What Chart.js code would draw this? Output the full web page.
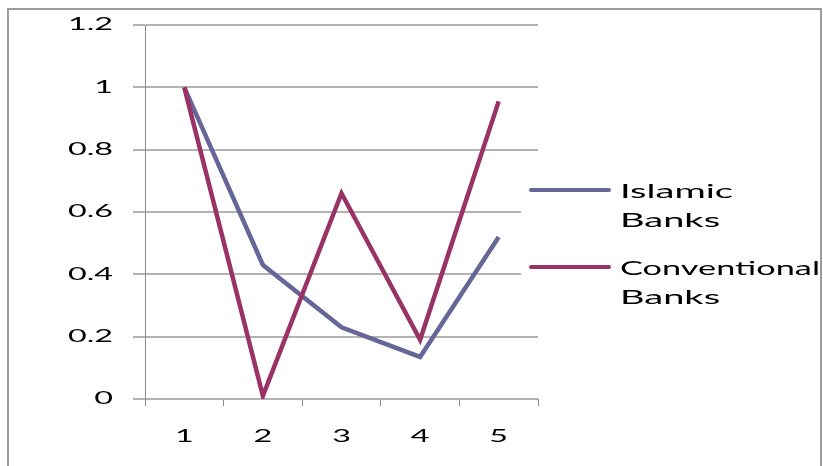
<!DOCTYPE html>
<html>
<head>
<meta charset="utf-8">
<script src="https://cdn.jsdelivr.net/npm/chart.js@4.4.1/dist/chart.umd.min.js"></script>
<style>
  html, body { margin: 0; padding: 0; background: #ffffff; }
  #wrap { width: 823px; height: 466px; position: relative; }
</style>
</head>
<body>
<div id="wrap"><canvas id="chart"></canvas></div>
<script>
// Periods on the x axis
const categories = ['1', '2', '3', '4', '5'];

// Normalised values per bank type
const islamicBanks = [1.0, 0.43, 0.23, 0.135, 0.52];
const conventionalBanks = [1.0, 0.01, 0.66, 0.19, 0.955];

// Legend entries (each drawn on two lines)
const seriesLabels = [['Islamic', 'Banks'], ['Conventional', 'Banks']];
const seriesColors = ['#666699', '#993366'];

// Y axis ticks
const yMin = 0;
const yMax = 1.2;
const yStep = 0.2;

const FONT = 'Lato, "Open Sans", sans-serif';
const TEXT_STRETCH = 1.9; // horizontal widening of all canvas text

// Draw every text run widened horizontally around its anchor point,
// and report the widened width so the layout reserves enough room.
const wideTextPlugin = {
  id: 'wideText',
  beforeInit(chart) {
    const ctx = chart.ctx;
    const fill = ctx.fillText.bind(ctx);
    const measure = ctx.measureText.bind(ctx);
    ctx.fillText = function (text, x, y, maxWidth) {
      this.save();
      this.translate(x, y);
      this.scale(TEXT_STRETCH, 1);
      if (maxWidth !== undefined) {
        fill(text, 0, 0, maxWidth / TEXT_STRETCH);
      } else {
        fill(text, 0, 0);
      }
      this.restore();
    };
    ctx.measureText = function (text) {
      const m = measure(text);
      return {
        width: m.width * TEXT_STRETCH,
        actualBoundingBoxAscent: m.actualBoundingBoxAscent,
        actualBoundingBoxDescent: m.actualBoundingBoxDescent,
        actualBoundingBoxLeft: m.actualBoundingBoxLeft * TEXT_STRETCH,
        actualBoundingBoxRight: m.actualBoundingBoxRight * TEXT_STRETCH
      };
    };
  }
};

// Outer frame around the chart
const framePlugin = {
  id: 'frame',
  beforeDraw(chart) {
    const ctx = chart.ctx;
    ctx.save();
    ctx.strokeStyle = '#9a9a9a';
    ctx.lineWidth = 2;
    ctx.strokeRect(8, 9, 813, 470);
    ctx.restore();
  }
};

// Legend at the right with two-line labels
const sideLegendPlugin = {
  id: 'sideLegend',
  afterDraw(chart) {
    const ctx = chart.ctx;
    const x0 = chart.chartArea.right - 17;
    ctx.save();
    ctx.fillStyle = '#ffffff';
    ctx.fillRect(x0, 165, 819 - x0, 150);
    const rows = [190, 267];
    chart.data.datasets.forEach((ds, i) => {
      const y = rows[i];
      ctx.strokeStyle = ds.borderColor;
      ctx.lineWidth = 4;
      ctx.lineCap = 'round';
      ctx.beginPath();
      ctx.moveTo(x0 + 10, y);
      ctx.lineTo(x0 + 88, y);
      ctx.stroke();
      ctx.fillStyle = '#000000';
      ctx.font = '20px ' + FONT;
      ctx.textBaseline = 'alphabetic';
      ctx.textAlign = 'left';
      seriesLabels[i].forEach((line, j) => {
        ctx.fillText(line, x0 + 99, y + 8 + j * 28.5, 200);
      });
    });
    ctx.restore();
  }
};

new Chart(document.getElementById('chart'), {
  type: 'line',
  data: {
    labels: categories,
    datasets: [
      {
        label: 'Islamic Banks',
        data: islamicBanks,
        borderColor: seriesColors[0],
        backgroundColor: seriesColors[0],
        borderWidth: 4.5,
        pointRadius: 0,
        tension: 0,
        order: 1
      },
      {
        label: 'Conventional Banks',
        data: conventionalBanks,
        borderColor: seriesColors[1],
        backgroundColor: seriesColors[1],
        borderWidth: 4.5,
        pointRadius: 0,
        tension: 0,
        order: 0
      }
    ]
  },
  options: {
    responsive: true,
    maintainAspectRatio: false,
    animation: false,
    layout: { padding: { left: 0, right: 285, top: 25, bottom: 0 } },
    plugins: {
      legend: { display: false },
      tooltip: { enabled: false }
    },
    scales: {
      x: {
        offset: true,
        grid: {
          offset: true,
          drawOnChartArea: false,
          drawTicks: true,
          tickLength: 7,
          tickColor: '#8c8c8c',
          tickWidth: 1
        },
        border: { display: false },
        ticks: {
          color: '#000000',
          font: { family: FONT, size: 17 },
          padding: 20,
          maxRotation: 0
        },
        afterFit(scale) {
          scale.height = 67;
          scale.paddingLeft = 0;
          scale.paddingRight = 0;
        }
      },
      y: {
        min: yMin,
        max: yMax,
        grid: {
          color: '#b3b3b3',
          lineWidth: 2,
          tickLength: 12,
          tickColor: '#b3b3b3',
          tickWidth: 2
        },
        border: { display: true, color: '#8c8c8c', width: 1 },
        ticks: {
          stepSize: yStep,
          color: '#000000',
          font: { family: FONT, size: 17 },
          padding: 20,
          callback: (v) => String(Math.round(v * 10) / 10)
        },
        afterFit(scale) {
          scale.width = 145;
          scale.paddingTop = 0;
          scale.paddingBottom = 0;
        }
      }
    }
  },
  plugins: [wideTextPlugin, framePlugin, sideLegendPlugin]
});
</script>
</body>
</html>
